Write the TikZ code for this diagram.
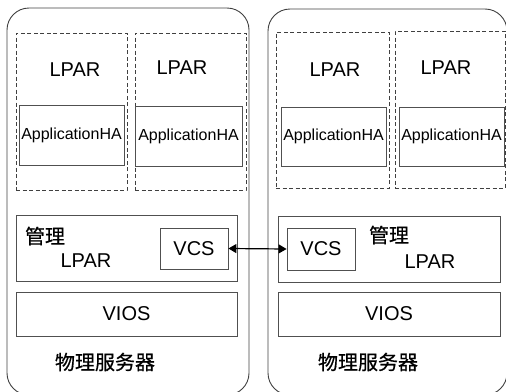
\documentclass[tikz,border=0pt]{standalone}
\usepackage{fontspec}
\setmainfont{Liberation Sans}
\newfontfamily\cjk[FakeBold=0.6]{Noto Sans CJK SC}
\usetikzlibrary{arrows.meta}
\definecolor{edge}{HTML}{404040}
\definecolor{boxc}{HTML}{505050}
\begin{document}
\begin{tikzpicture}[x=1pt,y=-1pt,
  server/.style={draw=edge,line width=0.9pt,rounded corners=22pt,inner sep=0pt},
  lparbox/.style={draw=edge,line width=0.8pt,dash pattern=on 4pt off 2.5pt,inner sep=0pt},
  solidbox/.style={draw=boxc,line width=0.8pt,inner sep=0pt},
  big/.style={inner sep=0pt,font=\fontsize{20}{24}\selectfont},
  app/.style={solidbox,font=\fontsize{16}{19}\selectfont},
  cjktext/.style={inner sep=0pt,font=\cjk\fontsize{20}{24}\selectfont},
  link/.style={line width=1.2pt,{Triangle[length=8pt,width=9pt]}-{Triangle[length=8pt,width=9pt]}}
]
\useasboundingbox (0,0) rectangle (506,391);
\begin{scope}
\clip (0,0) rectangle (506,391);
% servers
\node[server,minimum width=242pt,minimum height=387pt] (srvL) at (128,201.5) {};
\node[server,minimum width=239pt,minimum height=386pt] (srvR) at (387.5,202) {};
% LPAR dashed
\node[lparbox,minimum width=111pt,minimum height=157pt] (lparL1) at (71.5,111.5) {};
\node[lparbox,minimum width=111pt,minimum height=157pt] (lparL2) at (190.5,111.5) {};
\node[lparbox,minimum width=113pt,minimum height=156pt] (lparR1) at (332.5,110) {};
\node[lparbox,minimum width=110pt,minimum height=157pt] (lparR2) at (450,109.5) {};
\node[big] (tL1) at (75,70) {LPAR};
\node[big] (tL2) at (182,68) {LPAR};
\node[big] (tR1) at (335,70) {LPAR};
\node[big] (tR2) at (446,68) {LPAR};
% ApplicationHA
\node[app,minimum width=105pt,minimum height=60pt] (appL1) at (71.5,135) {ApplicationHA};
\node[app,minimum width=107pt,minimum height=60pt] (appL2) at (188.5,136) {ApplicationHA};
\node[app,minimum width=105pt,minimum height=59pt] (appR1) at (333.5,136.5) {ApplicationHA};
\node[app,minimum width=105pt,minimum height=59pt] (appR2) at (451.5,136.5) {ApplicationHA};
% management
\node[solidbox,minimum width=221pt,minimum height=66pt] (mgmtL) at (126.5,248) {};
\node[solidbox,minimum width=222pt,minimum height=66pt] (mgmtR) at (389,249) {};
\node[cjktext] (gL) at (45,236) {管理};
\node[big] (mlL) at (86,261) {LPAR};
\node[cjktext] (gR) at (389,235) {管理};
\node[big] (mlR) at (430,262) {LPAR};
\node[solidbox,big,minimum width=68pt,minimum height=41pt] (vcsL) at (194,248.5) {VCS};
\node[solidbox,big,minimum width=68pt,minimum height=42pt] (vcsR) at (321,249) {VCS};
% VIOS
\node[solidbox,big,minimum width=221pt,minimum height=44pt] (viosL) at (126.5,314) {VIOS};
\node[solidbox,big,minimum width=222pt,minimum height=44pt] (viosR) at (389,314) {VIOS};
% labels
\node[cjktext] (pL) at (105,362) {物理服务器};
\node[cjktext] (pR) at (368,362) {物理服务器};
\end{scope}
\draw[link] (vcsL.east) -- (vcsR.west);
\end{tikzpicture}
\end{document}
